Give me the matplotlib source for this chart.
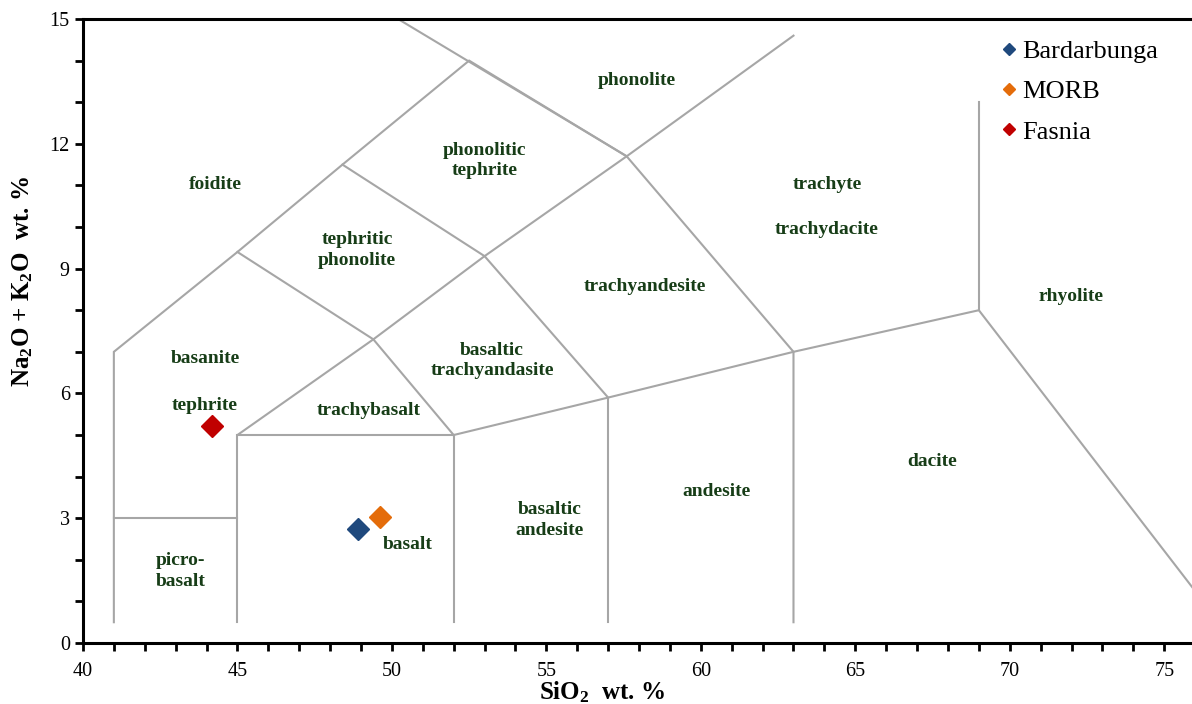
import matplotlib
matplotlib.use('Agg')
import matplotlib.pyplot as plt
from matplotlib.ticker import MultipleLocator

plt.rcParams['font.family'] = ['Liberation Serif', 'DejaVu Serif']
plt.rcParams['mathtext.default'] = 'regular'

# TAS field boundaries (SiO2, Na2O+K2O)
boundaries = [
    [(41, 0.5), (41, 7), (45, 9.4), (48.4, 11.5), (52.5, 14), (57.6, 11.7), (63, 7), (63, 0.5)],
    [(41, 3), (45, 3)],
    [(45, 0.5), (45, 5), (52, 5), (52, 0.5)],
    [(52, 5), (57, 5.9), (63, 7), (69, 8), (77.3, 0)],
    [(57, 0.5), (57, 5.9)],
    [(69, 8), (69, 13)],
    [(45, 9.4), (49.4, 7.3), (52, 5)],
    [(45, 5), (49.4, 7.3), (53, 9.3), (57.6, 11.7), (63, 14.6)],
    [(48.4, 11.5), (53, 9.3), (57, 5.9)],
    [(57.6, 11.7), (50.2, 15)],
]

# field names and label positions
fields = ['foidite', 'phonolite', 'phonolitic\ntephrite', 'tephritic\nphonolite', 'trachyte',
          'trachydacite', 'trachyandesite', 'rhyolite', 'basanite', 'tephrite',
          'basaltic\ntrachyandasite', 'trachybasalt', 'dacite', 'andesite',
          'basaltic\nandesite', 'basalt', 'picro-\nbasalt']
field_x = [44.27, 57.93, 53.0, 48.87, 64.08, 64.08, 58.19, 71.97, 43.95, 43.95,
           53.24, 49.26, 67.48, 60.52, 55.11, 50.52, 43.17]
field_y = [11.03, 13.53, 11.6, 9.45, 11.03, 9.95, 8.56, 8.32, 6.83, 5.72,
           6.8, 5.6, 4.375, 3.65, 2.96, 2.38, 1.73]

# samples
samples = ['Bardarbunga', 'MORB', 'Fasnia']
sio2 = [48.9, 49.6, 44.17]
alkali = [2.73, 3.04, 5.22]
colors = ['#1f497d', '#e46c0a', '#c00000']

fig = plt.figure(figsize=(11.92, 7.04), dpi=100)
ax = fig.add_axes([0.0696, 0.0866, 0.9304, 0.8864])

for line in boundaries:
    xs, ys = zip(*line)
    ax.plot(xs, ys, color='#a6a6a6', lw=1.5, solid_joinstyle='miter', zorder=1)

for name, x, y in zip(fields, field_x, field_y):
    ax.text(x, y, name, ha='center', va='center', fontsize=14, fontweight='bold',
            color='#173d17', linespacing=1.25)

for name, x, y, c in zip(samples, sio2, alkali, colors):
    ax.plot(x, y, 'D', color=c, ms=11, label=name, zorder=3)

ax.set_xlim(40, 75.9)
ax.set_ylim(0, 15)
ax.xaxis.set_major_locator(MultipleLocator(5))
ax.xaxis.set_minor_locator(MultipleLocator(1))
ax.yaxis.set_major_locator(MultipleLocator(3))
ax.yaxis.set_minor_locator(MultipleLocator(1))
ax.tick_params(which='both', direction='out', width=2, length=6, labelsize=14.5)
ax.tick_params(axis='x', pad=8)
ax.spines['right'].set_visible(False)
for s in ['left', 'bottom', 'top']:
    ax.spines[s].set_linewidth(2.2)

ax.set_xlabel('SiO$_2$  wt. %', fontsize=18, fontweight='bold')
ax.set_ylabel('Na$_2$O + K$_2$O  wt. %', fontsize=18, fontweight='bold')
ax.xaxis.set_label_coords(0.468, -0.058)
ax.yaxis.set_label_coords(-0.043, 0.58)

ax.legend(loc='upper left', bbox_to_anchor=(0.811, 0.997), frameon=False, fontsize=19,
          markerscale=0.55, handlelength=0.6, handletextpad=0.2, labelspacing=0.64,
          borderaxespad=0.3)

fig.savefig('out.png', dpi=100)
